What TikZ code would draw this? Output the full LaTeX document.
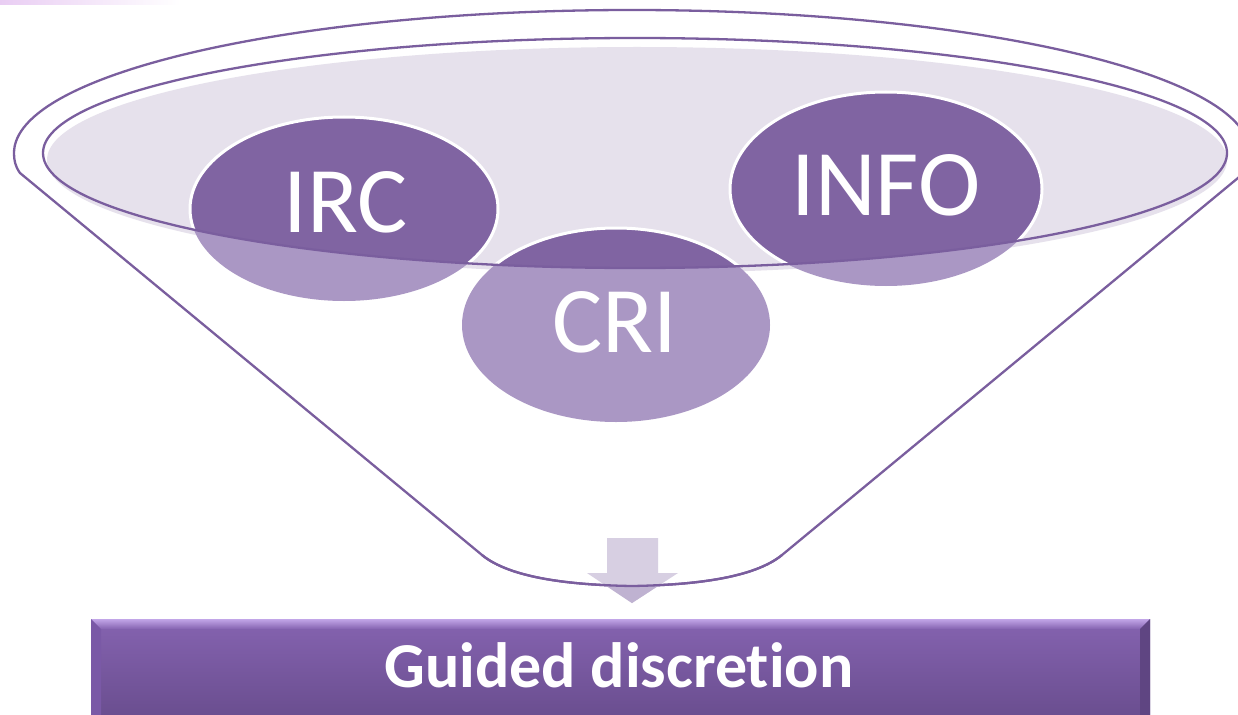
\documentclass[tikz,border=0pt]{standalone}
\usepackage{fontspec}
\setmainfont{Carlito}[Ligatures={NoCommon}]
\definecolor{funnelline}{HTML}{7A5E9E}
\definecolor{bubble}{HTML}{8064A2}
\definecolor{bubblelight}{HTML}{AA97C4}
\definecolor{rimfill}{HTML}{E6E1EC}
\definecolor{arrowtop}{HTML}{D7CFE2}
\definecolor{arrowlow}{HTML}{BFB2D1}
\definecolor{bartop}{HTML}{8563B0}
\definecolor{barbot}{HTML}{694D8E}
\definecolor{barlight}{HTML}{C2A6E8}
\definecolor{barleft}{HTML}{7A59A6}
\definecolor{barright}{HTML}{5F4582}
\definecolor{corner}{HTML}{E9CDF3}
\tikzset{
  outline/.style={draw=funnelline, line width=2.3pt, line join=round},
  bubbletext/.style={text=white, font=\fontsize{94}{100}\selectfont, anchor=base, inner sep=0pt},
  bartext/.style={text=white, font=\fontsize{64}{70}\bfseries\selectfont, anchor=base, inner sep=0pt},
}
\begin{document}
\begin{tikzpicture}[x=1pt, y=1pt]
  \useasboundingbox (0,0) rectangle (1238,-714);
  \fill[white] (0,0) rectangle (1238,-714);
  % faint strip in the top left corner
  \shade[left color=corner, right color=white] (0,0) rectangle (180,-5);

  % bubble centres
  \coordinate (cIRC) at (344,-209);
  \coordinate (cINFO) at (886,-189);
  \coordinate (cCRI) at (616,-325);

  % funnel outline: upper rim arc, sides and rounded spout
  \draw[outline] (20,-173) .. controls (15,-166) and (14,-160) .. (14,-153)
      arc[start angle=180, end angle=0, x radius=618, y radius=143]
      .. controls (1250,-160) and (1249,-166) .. (1244,-173)
      -- (782,-555)
      .. controls (754,-578) and (694,-585) .. (632,-586)
      .. controls (570,-585) and (510,-578) .. (482,-555) -- cycle;

  % shaded mouth of the funnel
  \fill[rimfill] (637,-160) ellipse[x radius=590, y radius=113];

  % bubbles, pale where they hang below the mouth
  \foreach \c/\rx/\ry in {cIRC/154/92, cINFO/156/97, cCRI/154/97}{
    \fill[bubblelight] (\c) ellipse[x radius=\rx, y radius=\ry];
  }
  \begin{scope}
    \clip (635,-153) ellipse[x radius=592, y radius=115];
    \foreach \c/\rx/\ry in {cIRC/154/92, cINFO/156/97, cCRI/154/97}{
      \filldraw[fill=bubble, draw=white, line width=3pt] (\c) ellipse[x radius=\rx, y radius=\ry];
    }
  \end{scope}

  % inner rim line of the funnel mouth
  \draw[outline] (635,-153) ellipse[x radius=592, y radius=115];

  \node[bubbletext] (irc) at (346,-232) {IRC};
  \node[bubbletext] (info) at (886,-215) {INFO};
  \node[bubbletext] (cri) at (615,-352) {CRI};

  % down arrow leaving the spout
  \fill[arrowtop] (607,-538) -- (658,-538) -- (658,-573) -- (678,-573)
      -- (632,-603) -- (587,-573) -- (607,-573) -- cycle;
  \begin{scope}
    \clip (400,-555) -- (482,-555)
      .. controls (510,-578) and (570,-585) .. (632,-586)
      .. controls (694,-585) and (754,-578) .. (782,-555)
      -- (860,-555) -- (860,-620) -- (400,-620) -- cycle;
    \fill[arrowlow] (607,-538) -- (658,-538) -- (658,-573) -- (678,-573)
        -- (632,-603) -- (587,-573) -- (607,-573) -- cycle;
  \end{scope}
  \draw[funnelline, line width=2.3pt]
      (482,-555) .. controls (510,-578) and (570,-585) .. (632,-586)
      .. controls (694,-585) and (754,-578) .. (782,-555);

  % result bar with bevelled edges
  \shade[top color=bartop, bottom color=barbot] (91,-619) rectangle (1150,-720);
  \shade[top color=barlight, bottom color=bartop] (91,-619) -- (1150,-619) -- (1140,-629) -- (101,-629) -- cycle;
  \fill[barleft] (91,-619) -- (101,-629) -- (101,-720) -- (91,-720) -- cycle;
  \fill[barright] (1150,-619) -- (1140,-629) -- (1140,-720) -- (1150,-720) -- cycle;
  \node[bartext] (guide) at (619,-687) {Guided discretion};
\end{tikzpicture}
\end{document}
